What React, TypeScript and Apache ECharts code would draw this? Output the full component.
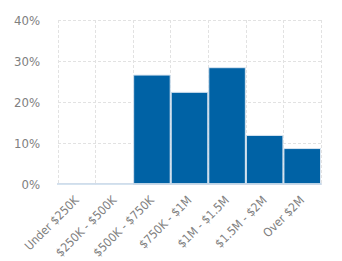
import React, { useEffect, useRef } from "react";
import * as echarts from "echarts";

const categories = ["Under $250K", "$250K - $500K", "$500K - $750K", "$750K - $1M", "$1M - $1.5M", "$1.5M - $2M", "Over $2M"];
const values = [0, 0, 26.7, 22.5, 28.5, 12.0, 8.8];
const yTicks = [0, 10, 20, 30, 40];

const FONT = "'DejaVu Sans Condensed', 'Liberation Sans Narrow', sans-serif";

export default function App() {
  const ref = useRef<HTMLDivElement>(null);
  useEffect(() => {
    if (!ref.current) return;
    const chart = echarts.init(ref.current, null, { renderer: "svg" });
    chart.setOption({
      animation: false,
      grid: { left: 58, right: 21, top: 20, bottom: 75 },
      xAxis: {
        type: "category",
        data: categories,
        boundaryGap: true,
        axisLine: { show: true, lineStyle: { color: "#c9d6e6", width: 2 } },
        axisTick: { show: false },
        splitLine: { show: true, interval: 0, lineStyle: { color: "#e2e2e2", type: [3, 2], width: 1 } },
        axisLabel: {
          interval: 0,
          rotate: 45,
          fontSize: 12,
          color: "#808080",
          fontFamily: FONT,
          margin: 14,
        },
      },
      yAxis: {
        type: "value",
        min: yTicks[0],
        max: yTicks[yTicks.length - 1],
        interval: 10,
        axisLine: { show: false },
        axisTick: { show: false },
        splitLine: { show: true, lineStyle: { color: "#e2e2e2", type: [3, 2], width: 1 } },
        axisLabel: {
          formatter: "{value}%",
          fontSize: 13,
          color: "#808080",
          fontFamily: FONT,
          margin: 18,
        },
      },
      series: [
        {
          type: "bar",
          data: values,
          barCategoryGap: 0,
          itemStyle: { color: "#0062a5", borderColor: "#d8e4f0", borderWidth: 1 },
        },
      ],
    });
    return () => chart.dispose();
  }, []);
  return <div ref={ref} style={{ width: 342, height: 261, position: "absolute", left: 0, top: 0 }} />;
}
